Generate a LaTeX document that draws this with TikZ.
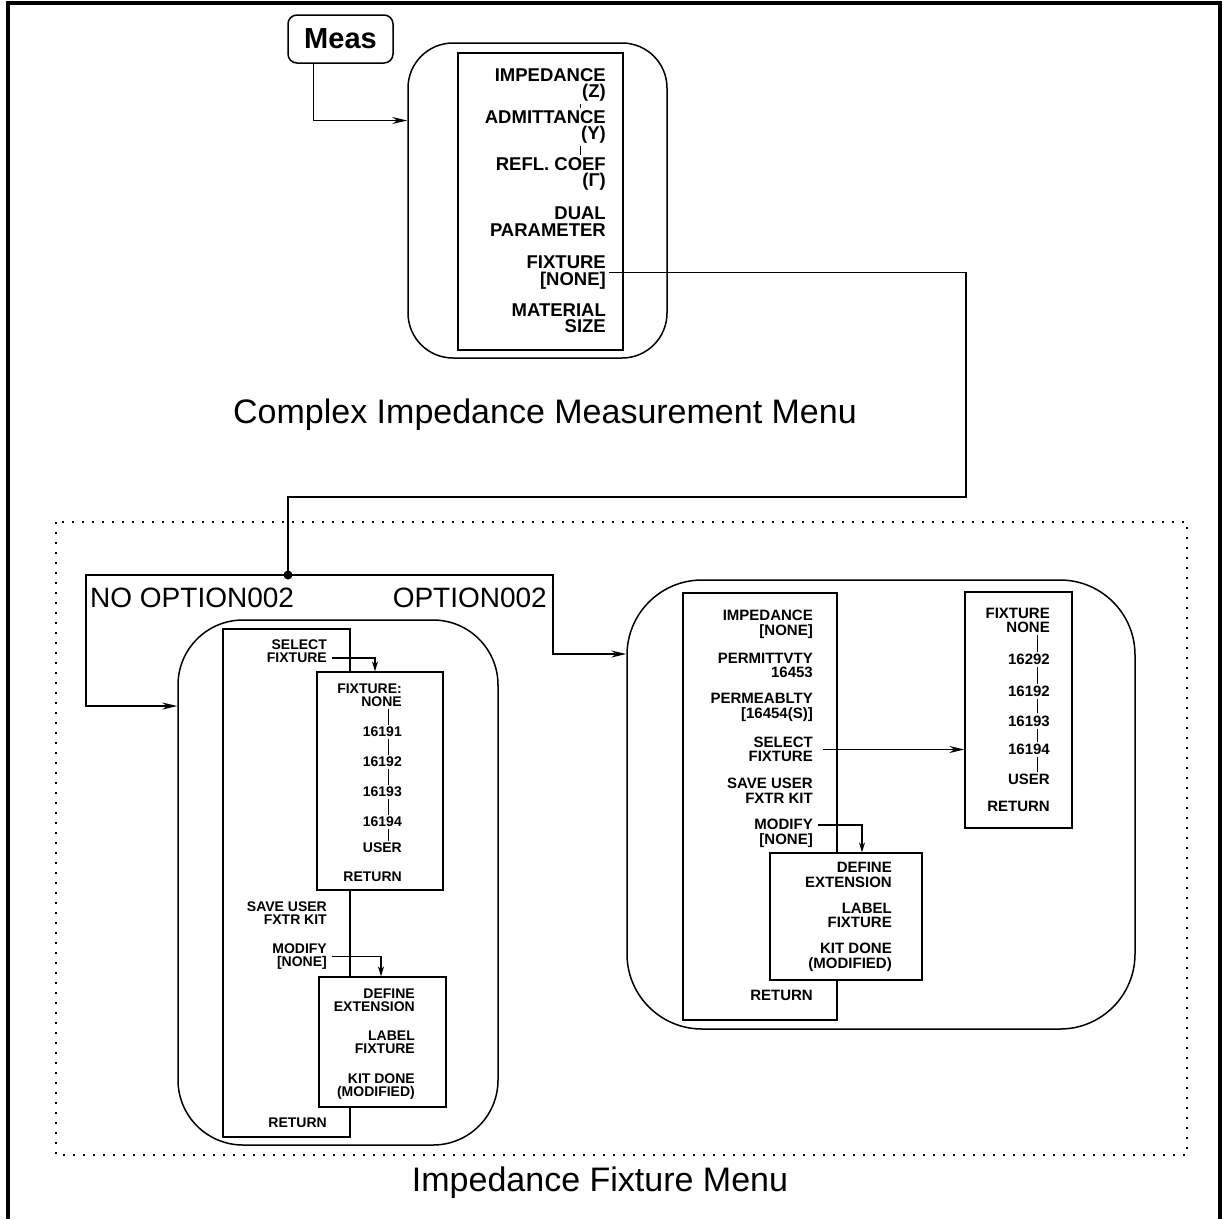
\documentclass[tikz,border=0pt]{standalone}
\usepackage{fontspec}
\setmainfont{Liberation Sans}
\usetikzlibrary{arrows.meta, positioning, calc}

\tikzset{
  frameline/.style={line width=3.5pt},
  dotframe/.style={line width=1.6pt, dash pattern=on 1.6pt off 8.4pt},
  panel/.style={draw, line width=1.5pt, rounded corners=#1, inner sep=0pt},
  panel/.default=65pt,
  menubox/.style={draw, fill=white, line width=1.3pt, inner sep=0pt},
  keycap/.style={draw, line width=1.5pt, rounded corners=9pt, inner sep=0pt,
    minimum width=105pt, minimum height=48pt, font=\bfseries\fontsize{29}{29}\selectfont},
  keybig/.style={anchor=east, align=right, inner sep=0pt, font=\bfseries\fontsize{18.5}{16.5}\selectfont},
  keymid/.style={anchor=east, align=right, inner sep=0pt, font=\bfseries\fontsize{15}{14.5}\selectfont},
  keysmall/.style={anchor=east, align=right, inner sep=0pt, font=\bfseries\fontsize{14}{13}\selectfont},
  title/.style={inner sep=0pt, font=\fontsize{34}{34}\selectfont},
  optlabel/.style={inner sep=0pt, font=\fontsize{28}{28}\selectfont},
  route/.style={line width=1.4pt},
  link/.style={line width=1.4pt, -{Stealth[length=15pt,width=7pt]}},
  sublink/.style={line width=1.2pt, shorten <=5pt, -{Stealth[length=10pt,width=6pt]}},
  tickline/.style={line width=0.9pt, shorten <=2pt, shorten >=2pt}
}

\begin{document}
\begin{tikzpicture}[x=1pt, y=-1pt]
\useasboundingbox (0,0) rectangle (1223,1219);
\draw[frameline] (8,1219) -- (8,3) -- (1220,3) -- (1220,1219);

% measurement menu
\node[keycap] (meas) at (340.5,39) {Meas};
\node[panel=45pt, minimum width=259pt, minimum height=315pt] (cimpanel) at (537.5,200.5) {};
\node[menubox, minimum width=165pt, minimum height=297pt] (cimlist) at (540.5,201.5) {};
\node[keybig] (cimimp) at (606,85) {IMPEDANCE\\(Z)};
\node[keybig] (cimadm) at (606,127) {ADMITTANCE\\(Y)};
\node[keybig] (cimrefl) at (606,174) {REFL. COEF\\(Γ)};
\node[keybig] (cimdual) at (606,221.5) {DUAL\\PARAMETER};
\node[keybig] (cimfix) at (606,272.5) {FIXTURE\\{[NONE]}};
\node[keybig] (cimmat) at (606,318) {MATERIAL\\SIZE};
\coordinate (cimtick) at (580,0);
\draw[tickline] (cimimp.south -| cimtick) -- (cimadm.north -| cimtick);
\draw[tickline] (cimadm.south -| cimtick) -- (cimrefl.north -| cimtick);
\draw[link] ([xshift=-27pt]meas.south) |- ([yshift=80pt]cimpanel.west);
\node[title] (cimtitle) at (545,415) {Complex Impedance Measurement Menu};

% fixture menu frame
\draw[dotframe] (56,522) rectangle (1187,1155);
\node[title] (fixtitle) at (600,1183) {Impedance Fixture Menu};
\node[optlabel, anchor=west] (optno) at (90,598) {NO OPTION002};
\node[optlabel, anchor=east] (optyes) at (547,598) {OPTION002};

% left panel (no option 002)
\node[panel, minimum width=320pt, minimum height=525pt] (lpanel) at (338,882.5) {};
\node[menubox, minimum width=127pt, minimum height=508pt] (lmenu) at (286.5,883) {};
\node[keysmall] (lsel) at (327,651) {SELECT\\FIXTURE};
\node[keysmall] (lsave) at (327,913.5) {SAVE USER\\FXTR KIT};
\node[keysmall] (lmod) at (327,956.5) {MODIFY\\{[NONE]}};
\node[keysmall] (lret) at (327,1123) {RETURN};
\node[menubox, minimum width=126pt, minimum height=218pt] (lfix) at (380,781) {};
\node[keysmall] (lfnone) at (402,695.5) {FIXTURE:\\NONE};
\foreach \n/\y in {16191/732, 16192/762, 16193/792, 16194/822}
  \node[keysmall] (lf\n) at (402,\y) {\n};
\node[keysmall] (lfuser) at (402,848) {USER};
\node[keysmall] (lfret) at (402,877) {RETURN};
\coordinate (ltick) at (388,0);
\foreach \a/\b in {lfnone/lf16191, lf16191/lf16192, lf16192/lf16193, lf16193/lf16194, lf16194/lfuser}
  \draw[tickline] (\a.south -| ltick) -- (\b.north -| ltick);
\node[menubox, minimum width=127pt, minimum height=130pt] (lext) at (382.5,1042) {};
\node[keysmall] (ldef) at (415,1000) {DEFINE\\EXTENSION};
\node[keysmall] (llab) at (415,1042.5) {LABEL\\FIXTURE};
\node[keysmall] (ldone) at (415,1086.5) {KIT DONE\\(MODIFIED)};
\draw[sublink] ([yshift=-7pt]lsel.east) -| ([xshift=-5pt]lfix.north);
\draw[sublink] (lmod.east) -| ([xshift=-1.5pt]lext.north);

% right panel (option 002)
\node[panel=75pt, minimum width=508pt, minimum height=449pt] (rpanel) at (881,804.5) {};
\node[menubox, minimum width=154pt, minimum height=427pt] (rmenu) at (760,806.5) {};
\node[keymid] (rimp) at (813,624.5) {IMPEDANCE\\{[NONE]}};
\node[keymid] (rperm) at (813,665.5) {PERMITTVTY\\16453};
\node[keymid] (rpmb) at (813,707.5) {PERMEABLTY\\{[16454(S)]}};
\node[keymid] (rsel) at (813,749.5) {SELECT\\FIXTURE};
\node[keymid] (rsave) at (813,790.5) {SAVE USER\\FXTR KIT};
\node[keymid] (rmod) at (813,833.5) {MODIFY\\{[NONE]}};
\node[keymid] (rret) at (813,995) {RETURN};
\node[menubox, minimum width=107pt, minimum height=236pt] (rfix) at (1018.5,710) {};
\node[keymid] (rfnone) at (1050,620.5) {FIXTURE\\NONE};
\foreach \n/\y in {16292/659, 16192/691, 16193/721, 16194/749}
  \node[keymid] (rf\n) at (1050,\y) {\n};
\node[keymid] (rfuser) at (1050,779) {USER};
\node[keymid] (rfret) at (1050,806) {RETURN};
\coordinate (rtick) at (1037,0);
\foreach \a/\b in {rfnone/rf16292, rf16292/rf16192, rf16192/rf16193, rf16193/rf16194, rf16194/rfuser}
  \draw[tickline] (\a.south -| rtick) -- (\b.north -| rtick);
\node[menubox, minimum width=152pt, minimum height=127pt] (rext) at (846,916.5) {};
\node[keymid] (rdef) at (892,875) {DEFINE\\EXTENSION};
\node[keymid] (rlab) at (892,915.5) {LABEL\\FIXTURE};
\node[keymid] (rdone) at (892,957.5) {KIT DONE\\(MODIFIED)};
\draw[link, shorten <=10pt] (rsel.east) -- (rsel.east -| rfix.west);
\draw[sublink] ([yshift=8.5pt]rmod.east) -| ([xshift=16pt]rext.north);

% option routing
\coordinate (fixturn) at (966,497);
\coordinate (split) at (288,575);
\coordinate (noopt) at (86,706);
\coordinate (opt) at (553,654);
\draw[route, shorten <=3pt] (cimfix.east) -| (fixturn) -| (split);
\fill (split) circle[radius=4.5pt];
\draw[link] (split) -| (noopt) -- (noopt -| lpanel.west);
\draw[link] (split) -| (opt) -- (opt -| rpanel.west);
\end{tikzpicture}
\end{document}
